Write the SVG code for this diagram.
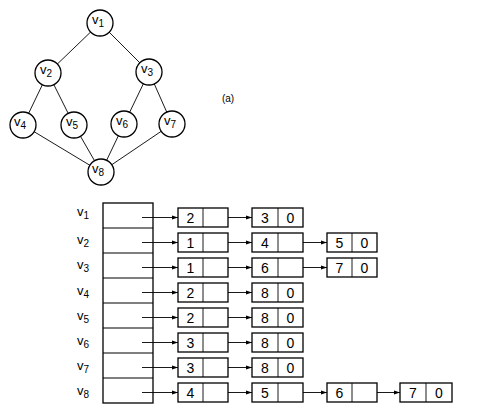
<svg xmlns="http://www.w3.org/2000/svg" width="478" height="410" viewBox="0 0 478 410">
<defs>
<style>
.n{fill:#fff;stroke:#000;stroke-width:1.3}
.e{stroke:#000;stroke-width:0.9;fill:none}
.b{fill:#fff;stroke:#000;stroke-width:1.3}
.a{stroke:#000;stroke-width:0.9;fill:none;marker-end:url(#ah)}
text{font-family:"Liberation Sans",Arial,sans-serif;fill:#000}
.v{font-size:13px}
.s{font-size:10px}
.d{font-size:14px;text-anchor:middle}
</style>
<marker id="ah" markerWidth="6" markerHeight="5" refX="6" refY="2.5" orient="auto" markerUnits="userSpaceOnUse">
<path d="M0,0.5 L6,2.5 L0,4.5 Z" fill="#000"/>
</marker>
</defs>
<rect width="478" height="410" fill="#fff"/>
<g id="edges">
<line class="e" x1="100" y1="23" x2="48" y2="73"/>
<line class="e" x1="100" y1="23" x2="149" y2="72"/>
<line class="e" x1="48" y1="73" x2="23" y2="125"/>
<line class="e" x1="48" y1="73" x2="74" y2="125"/>
<line class="e" x1="149" y1="72" x2="124" y2="124"/>
<line class="e" x1="149" y1="72" x2="172" y2="124"/>
<line class="e" x1="23" y1="125" x2="101" y2="172"/>
<line class="e" x1="74" y1="125" x2="101" y2="172"/>
<line class="e" x1="124" y1="124" x2="101" y2="172"/>
<line class="e" x1="172" y1="124" x2="101" y2="172"/>
</g>
<g id="gv1"><circle class="n" cx="100" cy="23" r="13"/><text class="v" x="92" y="24">v<tspan class="s" dy="3">1</tspan></text></g>
<g id="gv2"><circle class="n" cx="48" cy="73" r="13"/><text class="v" x="40" y="74">v<tspan class="s" dy="3">2</tspan></text></g>
<g id="gv3"><circle class="n" cx="149" cy="72" r="13"/><text class="v" x="141" y="73">v<tspan class="s" dy="3">3</tspan></text></g>
<g id="gv4"><circle class="n" cx="23" cy="125" r="13"/><text class="v" x="14" y="126">v<tspan class="s" dy="3">4</tspan></text></g>
<g id="gv5"><circle class="n" cx="74" cy="125" r="13"/><text class="v" x="66" y="126">v<tspan class="s" dy="3">5</tspan></text></g>
<g id="gv6"><circle class="n" cx="124" cy="124" r="13"/><text class="v" x="116" y="125">v<tspan class="s" dy="3">6</tspan></text></g>
<g id="gv7"><circle class="n" cx="172" cy="124" r="13"/><text class="v" x="164" y="125">v<tspan class="s" dy="3">7</tspan></text></g>
<g id="gv8"><circle class="n" cx="101" cy="172" r="13"/><text class="v" x="92" y="173">v<tspan class="s" dy="3">8</tspan></text></g>
<text x="228" y="102" style="font-size:10px;text-anchor:middle">(a)</text>

<g id="labels">
<text class="v" x="77" y="216">v<tspan class="s" dy="3">1</tspan></text>
<text class="v" x="77" y="244">v<tspan class="s" dy="3">2</tspan></text>
<text class="v" x="77" y="269">v<tspan class="s" dy="3">3</tspan></text>
<text class="v" x="77" y="295">v<tspan class="s" dy="3">4</tspan></text>
<text class="v" x="77" y="320">v<tspan class="s" dy="3">5</tspan></text>
<text class="v" x="77" y="345">v<tspan class="s" dy="3">6</tspan></text>
<text class="v" x="77" y="370">v<tspan class="s" dy="3">7</tspan></text>
<text class="v" x="77" y="395">v<tspan class="s" dy="3">8</tspan></text>
</g>
<g id="table">
<rect class="b" x="103" y="203" width="50" height="200"/>
<path class="e" style="stroke-width:1.2" d="M103,228H153M103,253H153M103,278H153M103,303H153M103,328H153M103,353H153M103,378H153"/>
</g>
<g id="connectors">
<line class="a" x1="142" y1="217.5" x2="178" y2="217.5"/>
<line class="a" x1="142" y1="242.5" x2="178" y2="242.5"/>
<line class="a" x1="142" y1="267.5" x2="178" y2="267.5"/>
<line class="a" x1="142" y1="292.5" x2="178" y2="292.5"/>
<line class="a" x1="142" y1="317.5" x2="178" y2="317.5"/>
<line class="a" x1="142" y1="342.5" x2="178" y2="342.5"/>
<line class="a" x1="142" y1="367.5" x2="178" y2="367.5"/>
<line class="a" x1="142" y1="392.5" x2="178" y2="392.5"/>
<line class="a" x1="216" y1="217.5" x2="252" y2="217.5"/>
<line class="a" x1="216" y1="242.5" x2="252" y2="242.5"/>
<line class="a" x1="216" y1="267.5" x2="252" y2="267.5"/>
<line class="a" x1="216" y1="292.5" x2="252" y2="292.5"/>
<line class="a" x1="216" y1="317.5" x2="252" y2="317.5"/>
<line class="a" x1="216" y1="342.5" x2="252" y2="342.5"/>
<line class="a" x1="216" y1="367.5" x2="252" y2="367.5"/>
<line class="a" x1="216" y1="392.5" x2="252" y2="392.5"/>
<line class="a" x1="291" y1="242.5" x2="327" y2="242.5"/>
<line class="a" x1="291" y1="267.5" x2="327" y2="267.5"/>
<line class="a" x1="291" y1="392.5" x2="327" y2="392.5"/>
<line class="a" x1="365" y1="392.5" x2="400" y2="392.5"/>
</g>
<g id="r1a"><rect class="b" x="178" y="208" width="50" height="19"/><line class="e" x1="203" y1="208" x2="203" y2="227"/><text class="d" x="190.5" y="223">2</text></g>
<g id="r1b"><rect class="b" x="252" y="208" width="51" height="19"/><line class="e" x1="278" y1="208" x2="278" y2="227"/><text class="d" x="265" y="223">3</text><text class="d" x="290.5" y="223">0</text></g>
<g id="r2a"><rect class="b" x="178" y="233" width="50" height="19"/><line class="e" x1="203" y1="233" x2="203" y2="252"/><text class="d" x="190.5" y="248">1</text></g>
<g id="r2b"><rect class="b" x="252" y="233" width="51" height="19"/><line class="e" x1="278" y1="233" x2="278" y2="252"/><text class="d" x="265" y="248">4</text></g>
<g id="r2c"><rect class="b" x="327" y="233" width="50" height="19"/><line class="e" x1="352" y1="233" x2="352" y2="252"/><text class="d" x="339.5" y="248">5</text><text class="d" x="364.5" y="248">0</text></g>
<g id="r3a"><rect class="b" x="178" y="258" width="50" height="19"/><line class="e" x1="203" y1="258" x2="203" y2="277"/><text class="d" x="190.5" y="273">1</text></g>
<g id="r3b"><rect class="b" x="252" y="258" width="51" height="19"/><line class="e" x1="278" y1="258" x2="278" y2="277"/><text class="d" x="265" y="273">6</text></g>
<g id="r3c"><rect class="b" x="327" y="258" width="50" height="19"/><line class="e" x1="352" y1="258" x2="352" y2="277"/><text class="d" x="339.5" y="273">7</text><text class="d" x="364.5" y="273">0</text></g>
<g id="r4a"><rect class="b" x="178" y="283" width="50" height="19"/><line class="e" x1="203" y1="283" x2="203" y2="302"/><text class="d" x="190.5" y="298">2</text></g>
<g id="r4b"><rect class="b" x="252" y="283" width="51" height="19"/><line class="e" x1="278" y1="283" x2="278" y2="302"/><text class="d" x="265" y="298">8</text><text class="d" x="290.5" y="298">0</text></g>
<g id="r5a"><rect class="b" x="178" y="308" width="50" height="19"/><line class="e" x1="203" y1="308" x2="203" y2="327"/><text class="d" x="190.5" y="323">2</text></g>
<g id="r5b"><rect class="b" x="252" y="308" width="51" height="19"/><line class="e" x1="278" y1="308" x2="278" y2="327"/><text class="d" x="265" y="323">8</text><text class="d" x="290.5" y="323">0</text></g>
<g id="r6a"><rect class="b" x="178" y="333" width="50" height="19"/><line class="e" x1="203" y1="333" x2="203" y2="352"/><text class="d" x="190.5" y="348">3</text></g>
<g id="r6b"><rect class="b" x="252" y="333" width="51" height="19"/><line class="e" x1="278" y1="333" x2="278" y2="352"/><text class="d" x="265" y="348">8</text><text class="d" x="290.5" y="348">0</text></g>
<g id="r7a"><rect class="b" x="178" y="358" width="50" height="19"/><line class="e" x1="203" y1="358" x2="203" y2="377"/><text class="d" x="190.5" y="373">3</text></g>
<g id="r7b"><rect class="b" x="252" y="358" width="51" height="19"/><line class="e" x1="278" y1="358" x2="278" y2="377"/><text class="d" x="265" y="373">8</text><text class="d" x="290.5" y="373">0</text></g>
<g id="r8a"><rect class="b" x="178" y="383" width="50" height="19"/><line class="e" x1="203" y1="383" x2="203" y2="402"/><text class="d" x="190.5" y="398">4</text></g>
<g id="r8b"><rect class="b" x="252" y="383" width="51" height="19"/><line class="e" x1="278" y1="383" x2="278" y2="402"/><text class="d" x="265" y="398">5</text></g>
<g id="r8c"><rect class="b" x="327" y="383" width="50" height="19"/><line class="e" x1="352" y1="383" x2="352" y2="402"/><text class="d" x="339.5" y="398">6</text></g>
<g id="r8d"><rect class="b" x="400" y="383" width="52" height="19"/><line class="e" x1="426" y1="383" x2="426" y2="402"/><text class="d" x="413" y="398">7</text><text class="d" x="439" y="398">0</text></g>
</svg>
